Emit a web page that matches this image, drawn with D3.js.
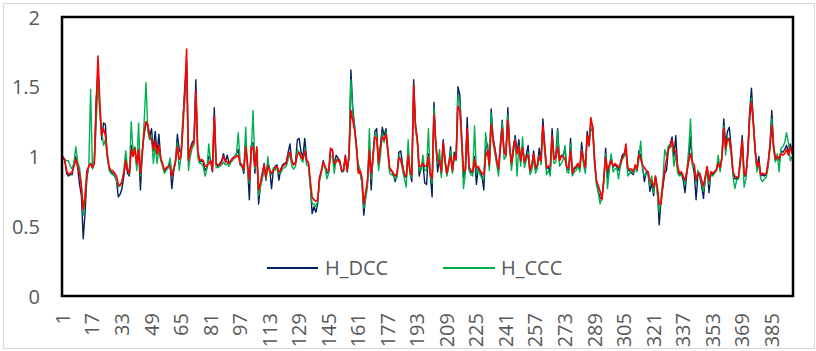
<!DOCTYPE html>
<html>
<head>
<meta charset="utf-8">
<script src="https://cdn.jsdelivr.net/npm/d3@7"></script>
<style>
  body { margin: 0; background: #fff; }
  svg { display: block; font-family: "Open Sans", "Noto Sans", sans-serif; }
</style>
</head>
<body>
<div id="chart"></div>
<script>
const hDCC = [
  1.00, 0.97, 0.88, 0.86, 0.87, 0.87, 0.95, 1.00, 0.92, 0.80,
  0.72, 0.41, 0.60, 0.85, 0.93, 0.95, 0.92, 0.96, 1.40, 1.62,
  1.35, 1.12, 1.24, 1.23, 1.00, 0.92, 0.89, 0.88, 0.86, 0.83,
  0.71, 0.73, 0.77, 0.86, 0.98, 0.88, 0.86, 1.08, 1.02, 1.05,
  0.93, 1.05, 0.76, 1.04, 1.16, 1.24, 1.22, 1.14, 1.20, 1.04,
  1.18, 1.02, 1.16, 0.98, 0.94, 0.89, 0.91, 0.92, 0.96, 0.77,
  0.90, 0.96, 1.16, 1.05, 1.02, 1.25, 1.50, 1.65, 0.98, 1.06,
  1.10, 1.12, 1.55, 1.05, 0.96, 0.97, 0.96, 0.90, 0.92, 1.00,
  0.98, 0.89, 1.35, 0.94, 0.93, 0.95, 0.97, 1.02, 0.96, 1.01,
  0.95, 0.97, 0.99, 1.00, 1.02, 1.05, 0.94, 0.93, 0.88, 1.10,
  0.93, 0.69, 1.08, 1.10, 0.88, 1.05, 0.66, 0.79, 0.87, 0.95,
  0.83, 0.96, 0.91, 0.77, 0.90, 0.93, 0.94, 0.83, 0.91, 0.94,
  0.95, 0.96, 1.03, 1.09, 0.96, 0.94, 0.96, 1.12, 1.13, 1.03,
  1.00, 1.13, 0.98, 0.95, 0.80, 0.59, 0.64, 0.60, 0.66, 0.84,
  0.89, 0.97, 0.92, 0.88, 0.89, 1.05, 1.05, 0.93, 1.01, 0.99,
  0.97, 0.89, 0.90, 1.01, 0.89, 1.00, 1.62, 1.35, 1.22, 1.08,
  0.90, 0.88, 0.82, 0.58, 0.72, 0.82, 1.05, 0.76, 1.02, 1.18,
  1.20, 0.93, 1.08, 1.21, 1.15, 1.20, 1.05, 0.90, 0.90, 0.87,
  0.82, 0.87, 1.03, 1.04, 0.94, 0.86, 0.85, 1.02, 0.89, 0.82,
  1.55, 1.23, 1.12, 0.86, 0.92, 0.96, 0.81, 0.80, 1.02, 0.87,
  0.71, 1.39, 1.10, 0.89, 0.99, 0.87, 1.12, 0.98, 0.87, 0.94,
  1.07, 0.89, 1.03, 0.99, 1.50, 1.44, 1.15, 0.85, 0.90, 1.28,
  0.92, 0.89, 0.88, 1.00, 0.80, 0.92, 0.89, 0.86, 0.76, 1.05,
  1.09, 0.93, 1.34, 1.14, 1.06, 0.97, 0.90, 1.10, 1.26, 1.02,
  1.03, 1.35, 1.08, 0.94, 1.07, 1.15, 1.03, 1.12, 0.96, 1.08,
  0.95, 1.01, 1.08, 0.89, 0.93, 1.04, 0.91, 0.93, 1.06, 0.96,
  1.27, 1.08, 0.91, 0.93, 0.88, 1.20, 0.99, 1.00, 1.20, 0.97,
  1.01, 1.01, 1.06, 0.91, 0.90, 1.13, 0.87, 0.91, 0.92, 0.95,
  0.91, 1.10, 0.97, 0.90, 1.18, 1.09, 1.25, 1.22, 0.97, 0.82,
  0.75, 0.70, 0.70, 0.84, 1.06, 0.85, 0.93, 1.00, 0.92, 0.94,
  0.93, 0.90, 0.95, 1.01, 1.02, 1.05, 0.90, 0.90, 0.88, 0.87,
  0.93, 0.90, 1.04, 1.00, 0.93, 0.82, 0.89, 0.88, 0.75, 0.81,
  0.72, 0.85, 0.77, 0.51, 0.68, 0.78, 0.88, 0.90, 1.06, 1.09,
  1.14, 1.00, 1.15, 0.92, 0.87, 0.88, 0.83, 0.74, 0.88, 0.98,
  1.14, 0.95, 0.88, 0.69, 0.87, 0.86, 0.79, 0.70, 0.85, 0.92,
  0.74, 0.88, 0.87, 0.89, 0.91, 0.97, 0.91, 1.00, 1.27, 1.08,
  1.18, 1.21, 1.06, 0.88, 0.84, 0.84, 0.85, 0.99, 1.15, 0.86,
  0.86, 1.04, 1.32, 1.49, 1.26, 1.05, 0.92, 1.00, 0.86, 0.87,
  0.86, 0.87, 0.95, 1.08, 1.33, 1.08, 0.97, 1.00, 0.97, 1.04,
  1.03, 1.05, 1.08, 1.03, 1.09, 1.04
];

const hCCC = [
  1.00, 0.98, 0.97, 0.97, 0.93, 0.91, 0.96, 1.07, 0.96, 0.92,
  0.80, 0.58, 0.70, 0.88, 0.92, 1.48, 0.91, 0.95, 1.22, 1.55,
  1.30, 1.18, 1.08, 1.12, 1.00, 0.90, 0.88, 0.87, 0.86, 0.83,
  0.78, 0.80, 0.82, 0.90, 1.04, 0.92, 0.87, 1.25, 1.03, 1.07,
  0.90, 1.24, 0.86, 1.00, 1.25, 1.53, 1.18, 1.12, 1.15, 0.95,
  1.08, 0.95, 1.05, 0.97, 0.93, 0.88, 0.90, 0.92, 0.99, 0.88,
  0.92, 0.98, 1.10, 0.90, 1.00, 1.30, 1.40, 1.70, 0.90, 1.00,
  1.06, 1.08, 1.45, 1.00, 0.95, 0.95, 0.93, 0.86, 0.91, 1.09,
  0.96, 0.91, 1.25, 0.92, 0.92, 0.93, 0.94, 0.96, 0.94, 0.95,
  0.93, 0.96, 0.97, 1.00, 1.02, 1.17, 0.96, 0.93, 0.90, 1.21,
  0.90, 0.81, 1.02, 1.33, 0.91, 1.04, 0.72, 0.78, 0.84, 0.90,
  0.84, 1.00, 0.88, 0.87, 0.92, 0.90, 0.92, 0.88, 0.88, 0.91,
  0.92, 0.93, 0.98, 1.02, 0.93, 0.91, 0.93, 1.05, 1.02, 0.98,
  0.96, 1.06, 0.94, 0.93, 0.78, 0.66, 0.66, 0.64, 0.68, 0.82,
  0.88, 0.95, 0.93, 0.84, 0.88, 1.00, 1.00, 0.88, 0.98, 0.97,
  0.95, 0.91, 0.89, 0.98, 0.92, 0.98, 1.55, 1.32, 1.20, 1.05,
  0.95, 0.90, 0.80, 0.63, 0.70, 0.78, 1.20, 0.84, 0.98, 1.16,
  1.15, 0.90, 1.00, 1.17, 1.10, 1.18, 1.02, 0.88, 0.87, 0.86,
  0.84, 0.85, 1.01, 0.97, 0.90, 0.84, 0.78, 1.12, 0.87, 0.85,
  1.45, 1.20, 1.10, 0.90, 0.90, 1.01, 0.90, 0.90, 1.20, 0.86,
  0.81, 1.35, 1.06, 0.95, 1.05, 0.85, 1.06, 0.95, 0.86, 0.93,
  1.04, 0.88, 0.99, 0.97, 1.44, 1.38, 1.10, 0.77, 0.88, 1.15,
  0.90, 0.87, 0.86, 1.22, 0.88, 0.90, 0.87, 0.84, 0.84, 1.17,
  1.05, 0.90, 1.31, 1.10, 1.02, 0.94, 0.86, 1.06, 1.24, 0.98,
  1.00, 1.30, 1.05, 0.90, 1.02, 1.13, 0.86, 1.08, 0.93, 1.14,
  0.92, 0.97, 1.03, 0.87, 0.90, 0.99, 0.88, 0.91, 1.01, 0.94,
  1.20, 1.03, 0.87, 0.90, 0.86, 1.12, 0.95, 0.96, 1.19, 0.93,
  0.95, 0.98, 1.08, 0.89, 0.88, 1.09, 0.86, 0.89, 0.90, 0.93,
  0.89, 1.05, 0.94, 0.88, 1.14, 1.07, 1.21, 1.17, 0.94, 0.80,
  0.74, 0.66, 0.71, 0.82, 1.02, 0.77, 0.90, 1.02, 0.89, 0.91,
  0.92, 0.84, 0.93, 0.98, 1.00, 1.03, 0.86, 0.88, 0.90, 0.88,
  0.92, 0.89, 0.98, 1.11, 0.90, 0.86, 0.88, 0.87, 0.79, 0.86,
  0.74, 0.86, 0.73, 0.60, 0.70, 0.83, 1.05, 1.00, 1.08, 1.07,
  1.08, 0.93, 1.02, 0.88, 0.86, 0.87, 0.85, 0.80, 0.90, 1.05,
  1.27, 0.93, 0.92, 0.81, 0.90, 0.87, 0.82, 0.75, 0.83, 0.91,
  0.80, 0.87, 0.86, 0.88, 0.90, 1.01, 0.89, 0.98, 1.22, 1.01,
  1.14, 1.10, 1.01, 0.86, 0.77, 0.83, 0.84, 0.95, 1.10, 0.78,
  0.84, 1.00, 1.25, 1.42, 1.22, 1.02, 0.89, 0.95, 0.84, 0.82,
  0.84, 0.85, 0.92, 1.05, 1.27, 1.04, 0.96, 1.02, 0.89, 1.06,
  1.07, 1.10, 1.17, 1.10, 0.97, 1.00
];

// third (red) series, not named in the legend
const hRed = [
  1.00, 0.97, 0.90, 0.87, 0.88, 0.89, 0.93, 0.98, 0.93, 0.88,
  0.78, 0.62, 0.72, 0.90, 0.93, 0.95, 0.92, 0.95, 1.35, 1.72,
  1.38, 1.15, 1.20, 1.15, 1.02, 0.93, 0.90, 0.90, 0.88, 0.86,
  0.80, 0.79, 0.82, 0.88, 0.97, 0.90, 0.88, 1.05, 1.00, 1.06,
  0.95, 1.05, 0.88, 1.03, 1.18, 1.25, 1.23, 1.14, 1.12, 1.05,
  1.11, 1.02, 1.08, 0.99, 0.95, 0.90, 0.92, 0.93, 0.93, 0.86,
  0.90, 0.97, 1.07, 0.98, 1.00, 1.20, 1.45, 1.77, 0.97, 1.05,
  1.08, 1.10, 1.47, 1.05, 0.97, 0.98, 0.97, 0.93, 0.93, 0.95,
  0.97, 0.90, 1.29, 0.95, 0.94, 0.94, 0.96, 1.00, 0.97, 0.96,
  0.95, 0.97, 0.99, 0.99, 1.00, 1.01, 0.95, 0.94, 0.91, 1.07,
  0.95, 0.83, 1.05, 1.07, 0.93, 1.07, 0.76, 0.81, 0.88, 0.94,
  0.85, 0.93, 0.90, 0.88, 0.90, 0.92, 0.93, 0.89, 0.90, 0.93,
  0.94, 0.95, 1.01, 1.03, 0.97, 0.94, 0.95, 1.01, 1.03, 1.00,
  0.98, 1.04, 0.97, 0.96, 0.83, 0.71, 0.69, 0.68, 0.69, 0.85,
  0.90, 0.96, 0.93, 0.90, 0.90, 1.06, 1.04, 0.95, 0.96, 0.98,
  0.96, 0.90, 0.90, 1.00, 0.90, 1.02, 1.33, 1.26, 1.19, 1.07,
  0.88, 0.90, 0.85, 0.66, 0.74, 0.83, 1.04, 0.88, 1.00, 1.14,
  1.13, 0.95, 1.07, 1.14, 1.12, 1.16, 1.05, 0.92, 0.90, 0.88,
  0.86, 0.88, 0.99, 0.98, 0.93, 0.87, 0.86, 1.01, 0.90, 0.87,
  1.51, 1.21, 1.12, 0.93, 0.93, 0.95, 0.93, 0.93, 1.00, 0.88,
  0.84, 1.30, 1.09, 0.97, 0.97, 0.89, 1.10, 0.97, 0.88, 0.95,
  1.00, 0.90, 1.01, 0.98, 1.36, 1.33, 1.12, 0.90, 0.90, 1.20,
  0.93, 0.90, 0.89, 0.98, 0.92, 0.93, 0.90, 0.88, 0.87, 1.00,
  1.04, 0.94, 1.23, 1.12, 1.05, 0.97, 0.91, 1.07, 1.20, 1.03,
  1.01, 1.26, 1.07, 0.95, 1.05, 1.12, 1.02, 1.07, 0.97, 1.06,
  0.96, 1.00, 1.01, 0.90, 0.94, 1.02, 0.92, 0.94, 1.00, 0.97,
  1.22, 1.07, 0.92, 0.93, 0.93, 1.15, 0.98, 0.99, 1.07, 0.97,
  1.00, 1.00, 0.98, 0.92, 0.92, 1.04, 0.88, 0.92, 0.93, 0.95,
  0.92, 1.04, 0.98, 0.92, 1.15, 1.08, 1.28, 1.20, 0.98, 0.83,
  0.79, 0.75, 0.69, 0.83, 0.99, 0.90, 0.94, 0.97, 0.93, 0.95,
  0.94, 0.92, 0.95, 0.99, 1.01, 1.09, 0.92, 0.91, 0.91, 0.89,
  0.94, 0.91, 1.01, 0.98, 0.94, 0.92, 0.90, 0.89, 0.83, 0.82,
  0.78, 0.86, 0.78, 0.66, 0.66, 0.80, 0.90, 0.98, 1.05, 1.07,
  1.12, 1.04, 1.04, 0.93, 0.88, 0.89, 0.86, 0.83, 0.89, 0.97,
  1.02, 0.96, 0.94, 0.83, 0.88, 0.88, 0.83, 0.79, 0.86, 0.93,
  0.83, 0.89, 0.88, 0.89, 0.90, 0.95, 0.92, 0.99, 1.20, 1.06,
  1.12, 1.13, 1.05, 0.89, 0.86, 0.85, 0.86, 0.97, 1.12, 0.88,
  0.87, 1.02, 1.28, 1.39, 1.24, 1.05, 0.93, 0.96, 0.87, 0.88,
  0.87, 0.88, 0.95, 1.07, 1.22, 1.07, 0.98, 1.00, 0.99, 1.02,
  1.01, 1.02, 1.05, 1.01, 1.07, 1.02
];

// categories are the observation numbers 1..396
const categories = hDCC.map((_, i) => i + 1);
const xTickLabels = [1, 17, 33, 49, 65, 81, 97, 113, 129, 145, 161, 177, 193,
  209, 225, 241, 257, 273, 289, 305, 321, 337, 353, 369, 385];
const yTicks = [0, 0.5, 1, 1.5, 2];

const series = [
  { name: 'H_DCC', values: hDCC, color: '#002060', width: 1.4 },
  { name: 'H_CCC', values: hCCC, color: '#00B050', width: 1.4 },
  { name: 'H_RED', values: hRed, color: '#FF0000', width: 1.6 }
];

const W = 816, H = 351;
const plot = { left: 62, right: 793, top: 17, bottom: 296 };

const svg = d3.select('#chart').append('svg')
  .attr('width', W)
  .attr('height', H);

// outer chart frame
svg.append('rect')
  .attr('x', 3.5).attr('y', 3.5)
  .attr('width', W - 5).attr('height', H - 6)
  .attr('fill', '#fff')
  .attr('stroke', '#d9d9d9');

const x = d3.scaleBand()
  .domain(categories)
  .range([plot.left, plot.right])
  .paddingInner(0).paddingOuter(0);

const y = d3.scaleLinear()
  .domain([0, 2])
  .range([plot.bottom, plot.top]);

const line = d3.line()
  .x((d, i) => x(categories[i]) + x.bandwidth() / 2)
  .y(d => y(d));

// series lines
svg.append('g')
  .selectAll('path')
  .data(series)
  .enter()
  .append('path')
  .attr('fill', 'none')
  .attr('stroke', d => d.color)
  .attr('stroke-width', d => d.width)
  .attr('stroke-linejoin', 'round')
  .attr('d', d => line(d.values));

// plot area border
svg.append('rect')
  .attr('x', plot.left).attr('y', plot.top)
  .attr('width', plot.right - plot.left)
  .attr('height', plot.bottom - plot.top)
  .attr('fill', 'none')
  .attr('stroke', '#000')
  .attr('stroke-width', 2.5);

// y axis
const yAxis = svg.append('g')
  .attr('transform', `translate(${plot.left},0)`)
  .call(d3.axisLeft(y).tickValues(yTicks).tickSize(0).tickPadding(22)
    .tickFormat(d3.format('')));
yAxis.select('.domain').remove();
yAxis.selectAll('text')
  .attr('font-family', '"Open Sans", "Noto Sans", sans-serif')
  .attr('font-size', 20)
  .attr('fill', '#595959')
  .attr('dy', '0.35em');

// x axis, labels turned upright
const xAxis = svg.append('g')
  .attr('transform', `translate(0,${plot.bottom})`)
  .call(d3.axisBottom(x).tickValues(xTickLabels).tickSize(0));
xAxis.select('.domain').remove();
xAxis.selectAll('text')
  .attr('font-family', '"Open Sans", "Noto Sans", sans-serif')
  .attr('font-size', 20)
  .attr('fill', '#595959')
  .attr('text-anchor', 'end')
  .attr('transform', 'rotate(-90)')
  .attr('x', -17)
  .attr('y', 0)
  .attr('dy', '0.35em');

// legend (two named series)
const legend = [
  { s: series[0], x0: 267, x1: 318, tx: 325 },
  { s: series[1], x0: 443, x1: 495, tx: 501 }
];
const lg = svg.append('g');
legend.forEach(l => {
  lg.append('line')
    .attr('x1', l.x0).attr('x2', l.x1)
    .attr('y1', 268).attr('y2', 268)
    .attr('stroke', l.s.color)
    .attr('stroke-width', 1.8);
  lg.append('text')
    .attr('x', l.tx).attr('y', 268)
    .attr('dy', '0.35em')
    .attr('font-size', 20)
    .attr('fill', '#595959')
    .text(l.s.name);
});
</script>
</body>
</html>
